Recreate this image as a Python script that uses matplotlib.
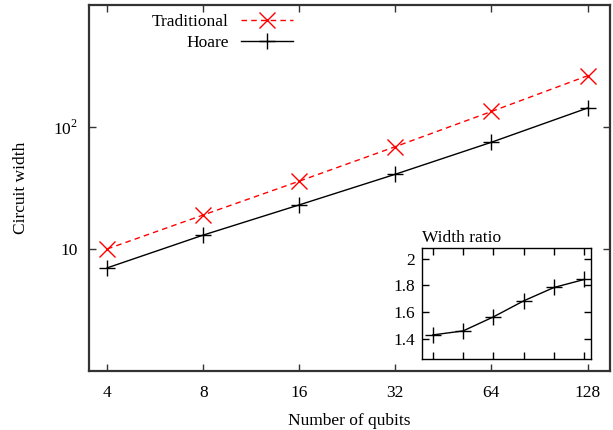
import matplotlib
matplotlib.use('Agg')
import matplotlib.pyplot as plt
from matplotlib.ticker import NullLocator, FixedLocator

plt.rcParams['font.family'] = ['Liberation Serif', 'DejaVu Serif']
plt.rcParams['mathtext.fontset'] = 'custom'
plt.rcParams['mathtext.rm'] = 'Liberation Serif'
plt.rcParams['font.size'] = 12.5

# data
qubits = [4, 8, 16, 32, 64, 128]
qubit_labels = ['4', '8', '16', '32', '64', '128']
width_traditional = [10, 19, 36, 69, 134, 263]
width_hoare = [7, 13, 23, 41, 75, 143]
width_ratio = [1.43, 1.46, 1.565, 1.685, 1.785, 1.845]
ratio_ticks = [1.4, 1.6, 1.8, 2.0]
ratio_tick_labels = ['1.4', '1.6', '1.8', '2']

fig = plt.figure(figsize=(6.13, 4.30), dpi=100)
ax = fig.add_axes([89 / 613, 59 / 430, 520.5 / 613, 366 / 430])

ax.plot(qubits, width_traditional, color='#ff0000', linestyle=(0, (4, 3)), linewidth=1,
        marker='x', markersize=12, markeredgewidth=1, label='Traditional')
ax.plot(qubits, width_hoare, color='black', linestyle='-', linewidth=1,
        marker='+', markersize=12, markeredgewidth=1, label='Hoare')

ax.set_xscale('log', base=2)
ax.set_yscale('log')
ax.set_xlim(3.51, 150)
ax.set_ylim(1, 1000)
ax.xaxis.set_major_locator(FixedLocator(qubits))
ax.set_xticklabels(qubit_labels)
ax.xaxis.set_minor_locator(NullLocator())
ax.yaxis.set_major_locator(FixedLocator([10, 100]))
ax.set_yticklabels(['10', '$10^2$'])
ax.yaxis.set_minor_locator(NullLocator())
ax.tick_params(direction='in', top=True, right=True, length=5, width=1,
               color='#333333', pad=8)
ax.tick_params(axis='x', pad=10)
for s in ax.spines.values():
    s.set_color('#333333')
    s.set_linewidth(1.6)

ax.set_xlabel('Number of qubits')
ax.set_ylabel('Circuit width')
ax.xaxis.set_label_coords(0.5, -0.114)
ax.yaxis.set_label_coords(-0.115, 0.5)

ax.legend(loc='upper right', bbox_to_anchor=(293 / 613, 416 / 430),
          bbox_transform=fig.transFigure, frameon=False, markerfirst=False,
          borderpad=0, borderaxespad=0, handlelength=3.0, handletextpad=0.7,
          labelspacing=0.25)

# inset: ratio of widths
ins = fig.add_axes([421.7 / 613, 71 / 430, 169 / 613, 111 / 430])
ins.plot(qubits, width_ratio, color='black', linewidth=1,
         marker='+', markersize=12, markeredgewidth=1)
ins.set_xscale('log', base=2)
ins.set_xlim(3.1, 148)
ins.set_ylim(1.25, 2.08)
ins.xaxis.set_major_locator(FixedLocator(qubits))
ins.xaxis.set_minor_locator(NullLocator())
ins.set_xticklabels([])
ins.yaxis.set_major_locator(FixedLocator(ratio_ticks))
ins.set_yticklabels(ratio_tick_labels)
ins.yaxis.set_minor_locator(NullLocator())
ins.tick_params(direction='in', top=True, right=True, length=5, width=1, pad=5)
for s in ins.spines.values():
    s.set_linewidth(1)
ins.set_title('Width ratio', loc='left', pad=4, fontsize=12.5)

fig.savefig('out.png', dpi=100)
